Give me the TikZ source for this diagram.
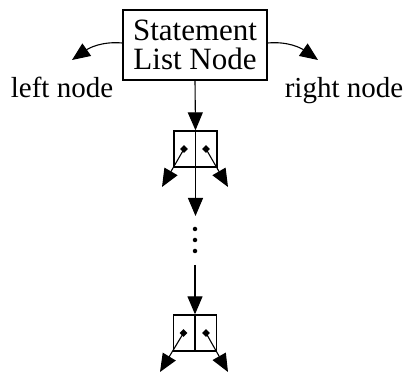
\documentclass[tikz,border=0pt]{standalone}
\usepackage{fontspec}
\setmainfont{Liberation Serif}
\usetikzlibrary{arrows.meta,shapes.geometric}
\begin{document}
\begin{tikzpicture}[x=1pt,y=1pt,
  line width=1.1pt,
  arr/.style={-{Triangle[length=18pt,width=15pt]}},
  cell/.style={draw, line width=1.3pt, minimum width=43pt, minimum height=36pt, inner sep=0pt},
  pin/.style={diamond, fill, minimum size=8pt, inner sep=0pt},
  vdot/.style={circle, fill, minimum size=4.5pt, inner sep=0pt},
  lbl/.style={font=\fontsize{29}{30}\selectfont, inner sep=0pt, anchor=base}]
\useasboundingbox (0,0) rectangle (406,374);
\node[draw, line width=1.3pt, minimum width=144pt, minimum height=70pt, inner sep=0pt, align=center,
  font=\fontsize{31}{30}\selectfont] (stmt) at (195,329) {\raisebox{-1pt}{Statement}\\List Node};
\node[lbl] (ln) at (62,276) {left node};
\node[lbl] (rn) at (344,276) {right node};
\coordinate (lt) at (72,314);
\coordinate (rt) at (318,314);
\draw[arr] ([yshift=2pt]stmt.west) to[out=175,in=35] (lt);
\draw[arr] ([yshift=2pt]stmt.east) to[out=5,in=145] (rt);
% first cell
\node[cell] (b1) at (195.5,225) {};
\draw[line width=1.3pt] (b1.north) -- (b1.south);
\draw[arr] (stmt.south) -- (b1.north);
\node[pin] (p1) at (184,225) {};
\node[pin] (p2) at (206,225) {};
\coordinate (t1l) at (162,187);
\coordinate (t1r) at (228,187);
\draw[arr] (p1.center) -- (t1l);
\draw[arr] (p2.center) -- (t1r);
\coordinate (d1) at (195.5,158);
\draw[arr] (b1.south) -- (d1);
% ellipsis
\node[vdot] (v1) at (195,145) {};
\node[vdot] (v2) at (195,134) {};
\node[vdot] (v3) at (195,123) {};
% second cell
\coordinate (s2) at (195,109);
\node[cell] (b2) at (195,41) {};
\draw[line width=1.3pt] (b2.north) -- (b2.south);
\draw[arr] (s2) -- (b2.north);
\node[pin] (q1) at (183.5,41) {};
\node[pin] (q2) at (206,41) {};
\coordinate (t2l) at (160,2);
\coordinate (t2r) at (228,2);
\draw[arr] (q1.center) -- (t2l);
\draw[arr] (q2.center) -- (t2r);
\end{tikzpicture}
\end{document}
